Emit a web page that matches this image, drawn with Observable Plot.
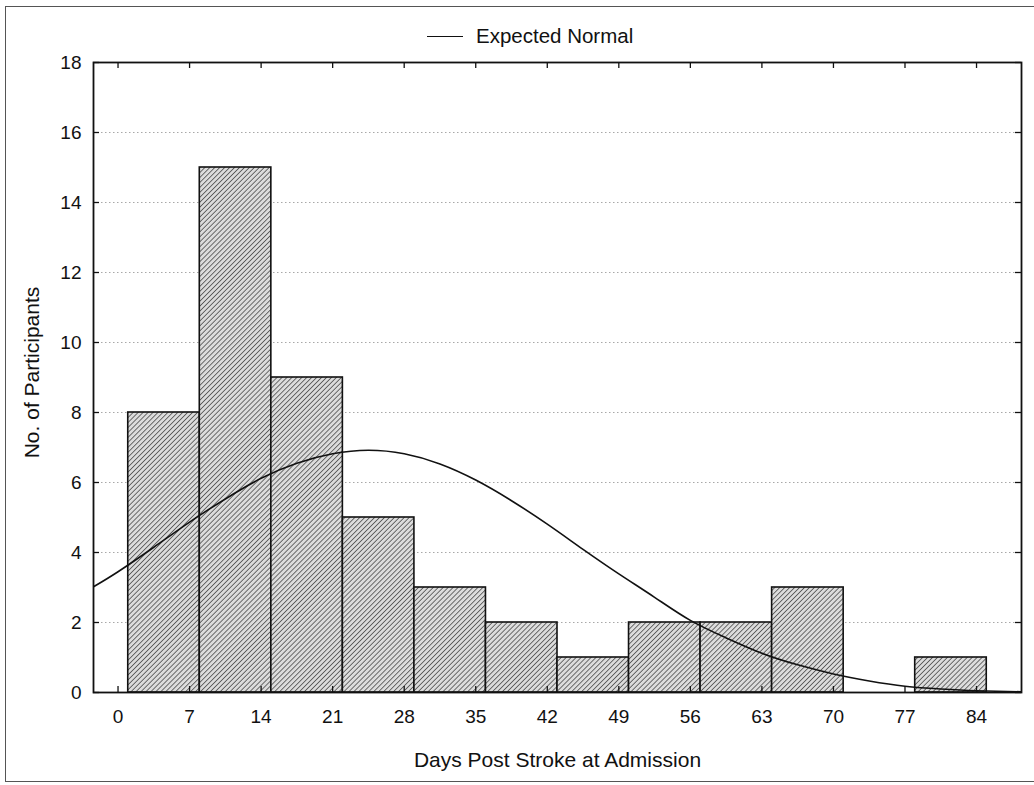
<!DOCTYPE html>
<html>
<head>
<meta charset="utf-8">
<script src="https://cdn.jsdelivr.net/npm/d3@7"></script>
<script src="https://cdn.jsdelivr.net/npm/@observablehq/plot@0.6"></script>
<style>
  html, body { margin: 0; padding: 0; background: #fff; }
  body { width: 1034px; height: 785px; position: relative; overflow: hidden;
         font-family: "Liberation Sans", Arial, sans-serif; color: #111; }
  #border { position: absolute; left: 5px; top: 6px; width: 1040px; height: 774px;
            border: 1.5px solid #555; pointer-events: none; }
  #legend { position: absolute; left: 427px; top: 24px; height: 24px; display: flex; align-items: center;
            font-size: 20.5px; color: #111; }
  #legend .sw { width: 36px; height: 0; border-top: 1.6px solid #111; margin-right: 13px; }
  #chart { position: absolute; left: 0; top: 50px; }
</style>
</head>
<body>
<div id="border"></div>
<div id="legend"><span class="sw"></span><span>Expected Normal</span></div>
<div id="chart"></div>
<script>
// Histogram bins (days post stroke) and counts
const binStart = [1, 8, 15, 22, 29, 36, 43, 50, 57, 64, 71, 78];
const binEnd   = [8, 15, 22, 29, 36, 43, 50, 57, 64, 71, 78, 85];
const counts   = [8, 15, 9, 5, 3, 2, 1, 2, 2, 3, 0, 1];

// Expected normal curve
const curveDays   = [-2.4, 0, 3.5, 7, 10.5, 14, 17.5, 21, 24.5, 28, 31.5, 35, 38.5, 42, 45.5, 49, 52.5, 56, 59.5, 63, 66.5, 70, 73.5, 77, 80.5, 84, 88.4];
const curveCounts = [3.02, 3.45, 4.15, 4.87, 5.53, 6.12, 6.55, 6.82, 6.92, 6.82, 6.53, 6.07, 5.48, 4.81, 4.09, 3.39, 2.72, 2.06, 1.56, 1.12, 0.79, 0.53, 0.33, 0.18, 0.1, 0.05, 0.02];

// Axis ticks
const xTicks = [0, 7, 14, 21, 28, 35, 42, 49, 56, 63, 70, 77, 84];
const yTicks = [0, 2, 4, 6, 8, 10, 12, 14, 16, 18];
const gridValues = [2, 4, 6, 8, 10, 12, 14, 16];

const xLabel = "Days Post Stroke at Admission";
const yLabel = "No. of Participants";

const bars = binStart.map((s, i) => ({x1: s, x2: binEnd[i], y: counts[i]})).filter(d => d.y > 0);
const curve = curveDays.map((d, i) => ({x: d, y: curveCounts[i]}));

const W = 1034, H = 735, mL = 93, mR = 13, mT = 12, mB = 93;
const pw = W - mL - mR, ph = H - mT - mB;
const tl = 6;

const plot = Plot.plot({
  width: W, height: H,
  marginLeft: mL, marginRight: mR, marginTop: mT, marginBottom: mB,
  style: {fontFamily: "'Liberation Sans', Arial, sans-serif", fontSize: "19px", color: "#111", background: "transparent"},
  x: {domain: [-2.4, 88.4]},
  y: {domain: [0, 18]},
  marks: [
    Plot.ruleY(gridValues, {stroke: "#a8a8a8", strokeDasharray: "1.5,2.5", strokeWidth: 1}),
    Plot.rectY(bars, {x1: "x1", x2: "x2", y: "y", fill: "url(#hatch)", stroke: "#111", strokeWidth: 1.6}),
    Plot.line(curve, {x: "x", y: "y", curve: "natural", stroke: "#111", strokeWidth: 1.6, clip: true}),
    Plot.ruleX(xTicks, {insetTop: ph - tl, stroke: "#111", strokeWidth: 1.3}),
    Plot.ruleX(xTicks, {insetBottom: ph - tl, stroke: "#111", strokeWidth: 1.3}),
    Plot.ruleY(yTicks, {insetRight: pw - tl, stroke: "#111", strokeWidth: 1.3}),
    Plot.ruleY(yTicks, {insetLeft: pw - tl, stroke: "#111", strokeWidth: 1.3}),
    Plot.axisX(xTicks, {tickSize: 0, tickPadding: 17, label: null, fontSize: 19, fill: "#111"}),
    Plot.axisY(yTicks, {tickSize: 0, tickPadding: 12, label: null, fontSize: 19, fill: "#111"}),
    Plot.text([yLabel], {text: d => d, frameAnchor: "left", textAnchor: "middle", lineAnchor: "middle", dx: -61, dy: -5, rotate: -90, fontSize: 21, fill: "#111"}),
    Plot.text([xLabel], {text: d => d, frameAnchor: "bottom", textAnchor: "middle", lineAnchor: "middle", dy: 68, fontSize: 21, fill: "#111"}),
    Plot.frame({stroke: "#111", strokeWidth: 1.8})
  ]
});

// Hatch pattern definition
const ns = "http://www.w3.org/2000/svg";
const defs = document.createElementNS(ns, "defs");
const pat = document.createElementNS(ns, "pattern");
pat.setAttribute("id", "hatch");
pat.setAttribute("patternUnits", "userSpaceOnUse");
pat.setAttribute("width", "3.5");
pat.setAttribute("height", "3.5");
pat.setAttribute("patternTransform", "rotate(45)");
const bg = document.createElementNS(ns, "rect");
bg.setAttribute("width", "3.5"); bg.setAttribute("height", "3.5"); bg.setAttribute("fill", "#dcdcdc");
const ln = document.createElementNS(ns, "line");
ln.setAttribute("x1", "0"); ln.setAttribute("y1", "0"); ln.setAttribute("x2", "0"); ln.setAttribute("y2", "3.5");
ln.setAttribute("stroke", "#444"); ln.setAttribute("stroke-width", "1.5");
pat.appendChild(bg); pat.appendChild(ln); defs.appendChild(pat);
plot.insertBefore(defs, plot.firstChild);

document.getElementById("chart").appendChild(plot);
</script>
</body>
</html>
